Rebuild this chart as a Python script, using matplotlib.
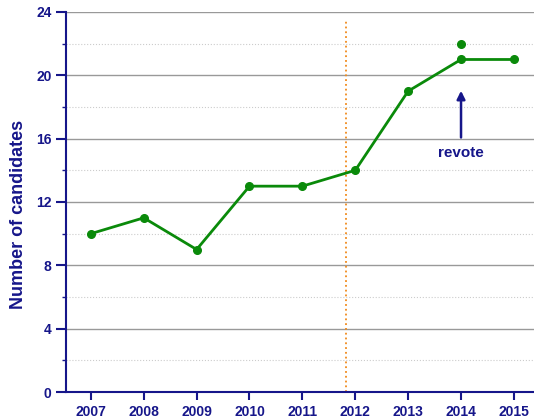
import matplotlib
matplotlib.use("Agg")
import matplotlib.pyplot as plt

years = [2007, 2008, 2009, 2010, 2011, 2012, 2013, 2014, 2015]
candidates = [10, 11, 9, 13, 13, 14, 19, 21, 21]
revote_year = 2014
revote_count = 22
split_year = 2011.82

navy = "#16168a"
green = "#0a8a0a"

plt.rcParams["font.family"] = ["Liberation Sans", "DejaVu Sans"]
plt.rcParams["font.weight"] = "bold"

fig = plt.figure(figsize=(5.34, 4.19), dpi=100)
ax = fig.add_axes([0.1236, 0.0644, 0.8764, 0.907])

ax.plot(years, candidates, color=green, lw=2, marker="o", ms=5.5, zorder=3)
ax.plot([revote_year], [revote_count], color=green, marker="o", ms=5.5, ls="none", zorder=3)
ax.axvline(split_year, color="#f08a1c", ls=":", lw=1.3, ymax=0.975)

ax.annotate("", xy=(revote_year, 19.2), xytext=(revote_year, 15.9),
            arrowprops=dict(arrowstyle="-|>", color=navy, lw=1.8, mutation_scale=12))
ax.text(revote_year, 15.1, "revote", color=navy, fontsize=11, fontweight="bold",
        ha="center", va="center")

ax.set_xlim(2006.53, 2015.38)
ax.set_ylim(0, 24)
ax.set_xticks(years)
ax.set_yticks(range(0, 25, 4))
ax.set_yticks(range(2, 24, 4), minor=True)

ax.grid(axis="y", which="major", color="#999999", lw=1)
ax.grid(axis="y", which="minor", color="#cccccc", lw=0.8, ls=":")
ax.set_axisbelow(True)

for s in ["top", "right"]:
    ax.spines[s].set_visible(False)
for s in ["left", "bottom"]:
    ax.spines[s].set_color(navy)
    ax.spines[s].set_linewidth(1.5)

ax.tick_params(axis="both", colors=navy, labelsize=10, width=1.5)
ax.tick_params(axis="y", which="major", length=7)
ax.tick_params(axis="y", which="minor", length=3, width=1, color=navy)
ax.tick_params(axis="x", length=6)
for lab in ax.get_xticklabels() + ax.get_yticklabels():
    lab.set_fontweight("bold")

ax.set_ylabel("Number of candidates", color=navy, fontsize=13, fontweight="bold")
ax.yaxis.set_label_coords(-0.083, 0.466)

fig.savefig("out.png", dpi=100)
